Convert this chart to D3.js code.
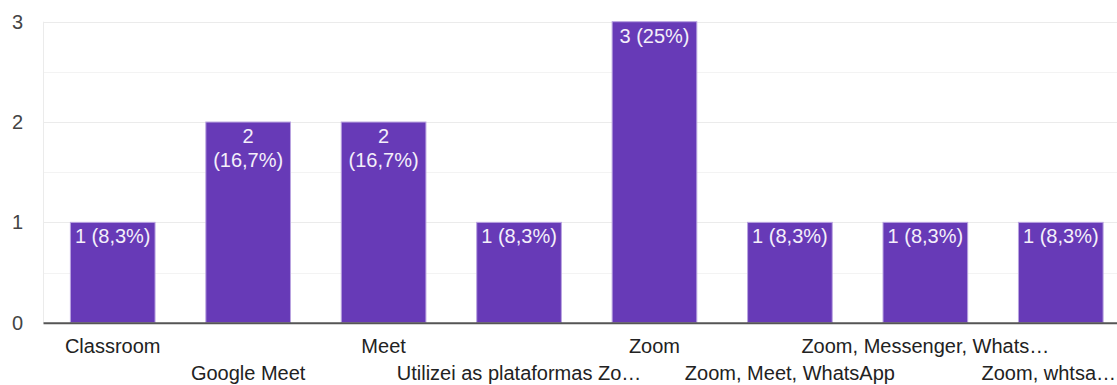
<!DOCTYPE html>
<html><head><meta charset="utf-8">
<script src="https://cdnjs.cloudflare.com/ajax/libs/d3/7.8.5/d3.min.js"></script>
<style>body{margin:0;background:#fff;overflow:hidden}svg{display:block;font-family:Arial,"Liberation Sans",sans-serif}</style>
</head><body><svg id="c" width="1117" height="385"></svg>
<script>
const categories = ["Classroom","Google Meet","Meet","Utilizei as plataformas Zo…","Zoom","Zoom, Meet, WhatsApp","Zoom, Messenger, Whats…","Zoom, whtsa…"];
const values = [1,2,2,1,3,1,1,1];
const barLabels = [["1 (8,3%)"],["2","(16,7%)"],["2","(16,7%)"],["1 (8,3%)"],["3 (25%)"],["1 (8,3%)"],["1 (8,3%)"],["1 (8,3%)"]];
const yTicks = [0,1,2,3];
const yMinor = [0.5,1.5,2.5];

(function(){
const svg = d3.select("#c");
const pLeft = 43.5, pRight = 1117, pTop = 21.7, pBottom = 322.7;
const x = d3.scaleBand().domain(categories).range([45, 1128.5]).paddingInner(0.375).paddingOuter(0.1875);
const y = d3.scaleLinear().domain([0,3]).range([pBottom, pTop]);

svg.append("g").selectAll("line").data(yMinor).join("line")
  .attr("x1", pLeft).attr("x2", pRight).attr("y1", d=>Math.round(y(d))+0.5).attr("y2", d=>Math.round(y(d))+0.5)
  .attr("stroke","#f3f3f3").attr("stroke-width",1);
svg.append("g").selectAll("line").data(yTicks.filter(d=>d>0)).join("line")
  .attr("x1", pLeft).attr("x2", pRight).attr("y1", d=>Math.round(y(d))+0.5).attr("y2", d=>Math.round(y(d))+0.5)
  .attr("stroke","#ebebeb").attr("stroke-width",1);
svg.append("line").attr("x1", pLeft).attr("x2", pLeft).attr("y1", pTop).attr("y2", pBottom)
  .attr("stroke","#ebebeb");

svg.append("g").selectAll("rect").data(values).join("rect")
  .attr("x",(d,i)=>x(categories[i])).attr("width",x.bandwidth())
  .attr("y",d=>y(d)).attr("height",d=>pBottom-y(d))
  .attr("fill","#673ab7").attr("stroke","#b9a3e0").attr("stroke-width",1);

const lg = svg.append("g");
values.forEach((v,i)=>{
  const cx = x(categories[i]) + x.bandwidth()/2;
  barLabels[i].forEach((t,j)=>{
    lg.append("text").attr("x",cx).attr("y",y(v)+21+j*24)
      .attr("text-anchor","middle").attr("font-size","20px").attr("fill","#f4effa").text(t);
  });
});

svg.append("line").attr("x1", pLeft).attr("x2", pRight).attr("y1", pBottom+0.5).attr("y2", pBottom+0.5)
  .attr("stroke","#555").attr("stroke-width",2);

svg.append("g").selectAll("text").data(yTicks).join("text")
  .attr("x",23).attr("y",d=>y(d)+7).attr("text-anchor","end")
  .attr("font-size","20px").attr("fill","#444").text(d=>d);

svg.append("g").selectAll("text").data(categories).join("text")
  .attr("x",(d,i)=> i===categories.length-1 ? 1116 : x(d)+x.bandwidth()/2)
  .attr("y",(d,i)=> i%2===0 ? 353 : 380)
  .attr("text-anchor",(d,i)=> i===categories.length-1 ? "end" : "middle")
  .attr("font-size","20px").attr("fill","#222").text(d=>d);
})();
</script></body></html>
